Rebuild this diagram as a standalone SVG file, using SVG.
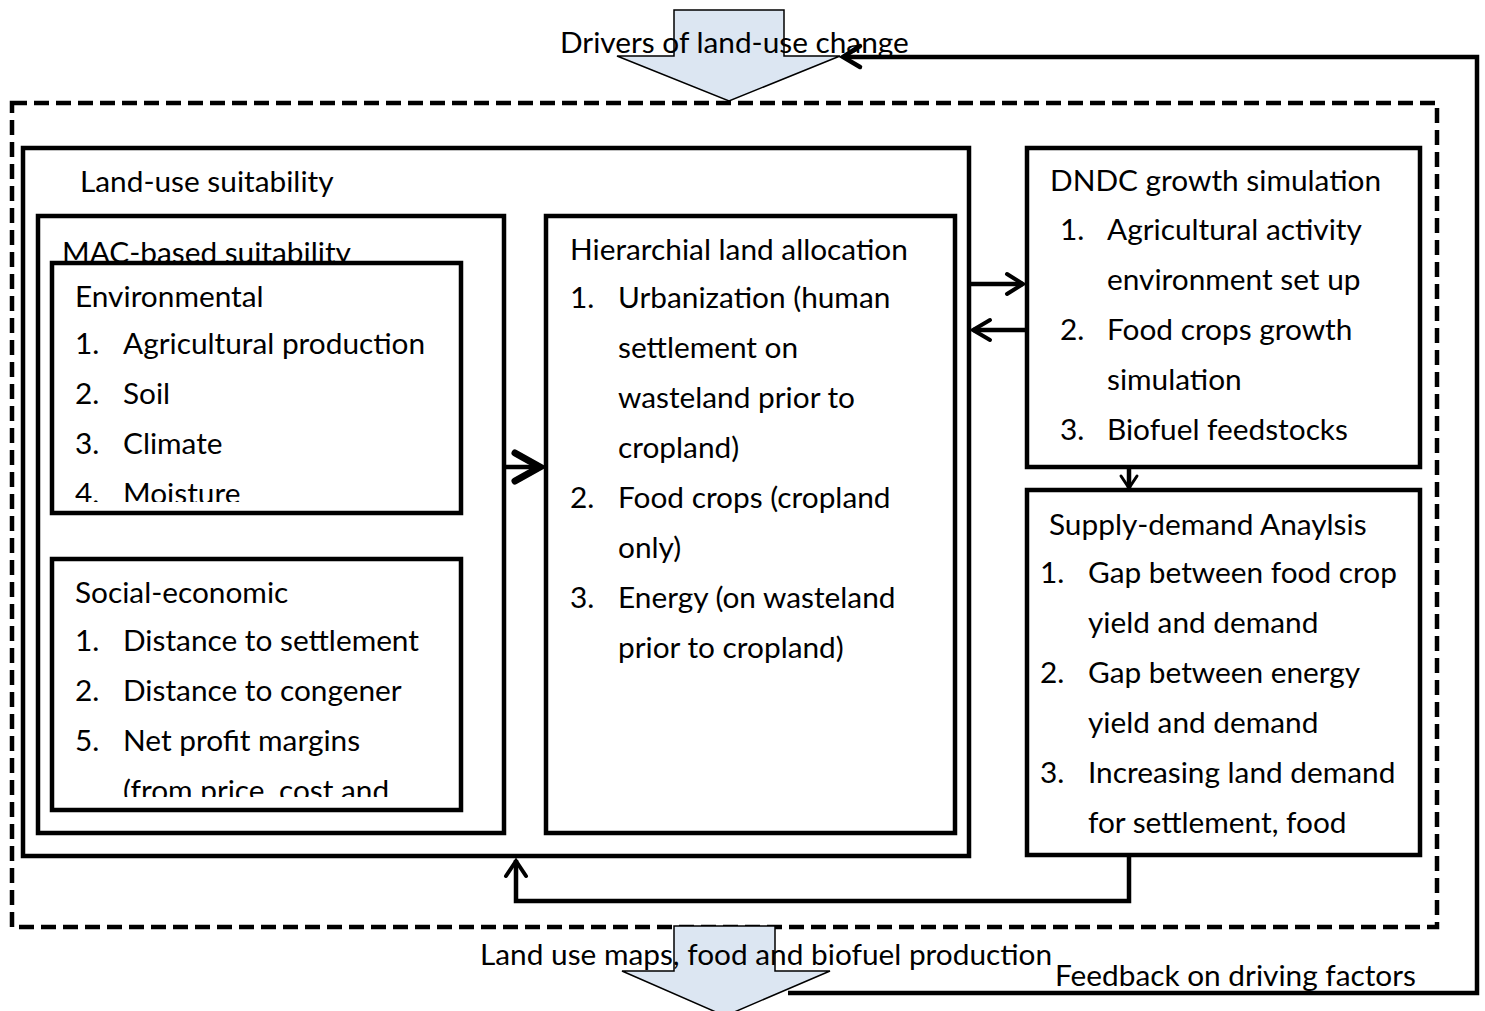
<svg xmlns="http://www.w3.org/2000/svg" width="1485" height="1011" viewBox="0 0 1485 1011">
<style>
text{font-family:Lato,"Liberation Sans",sans-serif;font-size:29.8px;fill:#000}
.box{fill:#fff;stroke:#000;stroke-width:4.5}
.ln{fill:none;stroke:#000;stroke-width:4.5}
.blk{fill:#dce6f2;stroke:#000;stroke-width:1.5}
</style>
<defs>
<clipPath id="cEnv"><rect x="50" y="262" width="412" height="240"/></clipPath>
<clipPath id="cSoc"><rect x="50" y="559" width="412" height="238"/></clipPath>
</defs>
<rect width="1485" height="1011" fill="#fff"/>

<g id="outer-frame">
<rect x="12" y="103" width="1425" height="824" fill="none" stroke="#000" stroke-width="4.5" stroke-dasharray="15,7"/>
</g>

<g id="drivers">
<path class="blk" d="M674,10 H784 V56 H840 L729,101 L617,56 H674 Z"/>
<text x="560" y="53">Drivers of land-use change</text>
</g>

<g id="outputs">
<path class="blk" d="M674,926 H775 V971 H830 L725,1016 L622,971 H674 Z"/>
<text x="480" y="965">Land use maps, food and biofuel production</text>
</g>

<g id="land-use-suitability">
<rect class="box" x="23" y="148" width="946" height="708"/>
<text x="80" y="192">Land-use suitability</text>
</g>

<g id="mac">
<rect class="box" x="38" y="216" width="466" height="617"/>
<text x="62" y="263">MAC-based suitability</text>
</g>

<g id="environmental">
<rect class="box" x="52" y="263" width="409" height="250"/>
<g clip-path="url(#cEnv)">
<text x="75" y="307">Environmental</text>
<text x="75" y="354">1.</text><text x="123" y="354">Agricultural production</text>
<text x="75" y="404">2.</text><text x="123" y="404">Soil</text>
<text x="75" y="454">3.</text><text x="123" y="454">Climate</text>
<text x="75" y="504">4.</text><text x="123" y="504">Moisture</text>
</g>
</g>

<g id="social-economic">
<rect class="box" x="52" y="559" width="409" height="251"/>
<g clip-path="url(#cSoc)">
<text x="75" y="603">Social-economic</text>
<text x="75" y="651">1.</text><text x="123" y="651">Distance to settlement</text>
<text x="75" y="701">2.</text><text x="123" y="701">Distance to congener</text>
<text x="75" y="751">5.</text><text x="123" y="751">Net profit margins</text>
<text x="123" y="801">(from price, cost and</text>
</g>
</g>

<g id="hierarchical">
<rect class="box" x="546" y="216" width="409" height="617"/>
<text x="570" y="260">Hierarchial land allocation</text>
<text x="570" y="308">1.</text><text x="618" y="308">Urbanization (human</text>
<text x="618" y="358">settlement on</text>
<text x="618" y="408">wasteland prior to</text>
<text x="618" y="458">cropland)</text>
<text x="570" y="508">2.</text><text x="618" y="508">Food crops (cropland</text>
<text x="618" y="558">only)</text>
<text x="570" y="608">3.</text><text x="618" y="608">Energy (on wasteland</text>
<text x="618" y="658">prior to cropland)</text>
</g>

<g id="dndc">
<rect class="box" x="1027" y="148" width="393" height="319"/>
<text x="1050" y="191">DNDC growth simulation</text>
<text x="1060" y="240">1.</text><text x="1107" y="240">Agricultural activity</text>
<text x="1107" y="290">environment set up</text>
<text x="1060" y="340">2.</text><text x="1107" y="340">Food crops growth</text>
<text x="1107" y="390">simulation</text>
<text x="1060" y="440">3.</text><text x="1107" y="440">Biofuel feedstocks</text>
</g>

<g id="supply-demand">
<rect class="box" x="1027" y="490" width="393" height="365"/>
<text x="1049" y="535">Supply-demand Anaylsis</text>
<text x="1040" y="583">1.</text><text x="1088" y="583">Gap between food crop</text>
<text x="1088" y="633">yield and demand</text>
<text x="1040" y="683">2.</text><text x="1088" y="683">Gap between energy</text>
<text x="1088" y="733">yield and demand</text>
<text x="1040" y="783">3.</text><text x="1088" y="783">Increasing land demand</text>
<text x="1088" y="833">for settlement, food</text>
</g>

<g id="connectors">
<path class="ln" d="M505,467 H540" stroke-width="5"/>
<path d="M515,453 L540,467 L515,481" fill="none" stroke="#000" stroke-width="7" stroke-linecap="round"/>
<path class="ln" d="M971,284 H1023"/>
<path d="M1007,274 L1023,284 L1007,294" fill="none" stroke="#000" stroke-width="4" stroke-linecap="round"/>
<path class="ln" d="M1025,330 H973"/>
<path d="M990,320 L973,330 L990,340" fill="none" stroke="#000" stroke-width="4" stroke-linecap="round"/>
<path class="ln" d="M1129,469 V488" stroke-width="3"/>
<path d="M1121,476 L1129,488 L1137,476" fill="none" stroke="#000" stroke-width="3" stroke-linecap="round"/>
<path class="ln" d="M1129,857 V901 H516 V860"/>
<path d="M506,876 L516,861 L526,876" fill="none" stroke="#000" stroke-width="4" stroke-linecap="round"/>
<path class="ln" d="M788,993 H1477 V57 H844"/>
<path d="M860,46 L843,57 L860,67" fill="none" stroke="#000" stroke-width="4.5" stroke-linecap="round"/>
</g>

<g id="feedback-label">
<text x="1055" y="986">Feedback on driving factors</text>
</g>
</svg>
